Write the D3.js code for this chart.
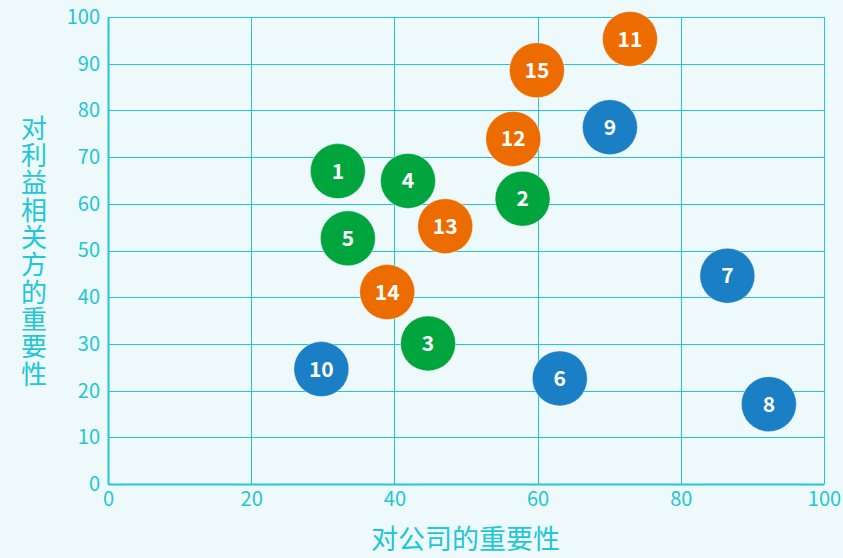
<!DOCTYPE html>
<html>
<head>
<meta charset="utf-8">
<script src="https://cdn.jsdelivr.net/npm/d3@7"></script>
<style>
  html, body { margin: 0; padding: 0; background: #eef9fb; }
  svg { display: block; font-family: "Noto Sans CJK SC", "Noto Sans", sans-serif; }
</style>
</head>
<body>
<svg id="chart" width="843" height="558"></svg>
<script>
// data
const ids = ["1","2","3","4","5","6","7","8","9","10","11","12","13","14","15"];
const companyImportance = [32.1, 57.9, 44.7, 41.9, 33.5, 63.1, 86.5, 92.3, 70.1, 29.8, 72.9, 56.6, 47.1, 39.0, 59.9];
const stakeholderImportance = [67.0, 61.1, 30.1, 64.9, 52.6, 22.6, 44.6, 17.1, 76.4, 24.6, 95.3, 73.9, 55.2, 41.1, 88.6];
const groups = ["g","g","g","g","g","b","b","b","b","b","o","o","o","o","o"];
const xTicks = [0, 20, 40, 60, 80, 100];
const yTicks = [0, 10, 20, 30, 40, 50, 60, 70, 80, 90, 100];
const xTitle = "对公司的重要性";
const yTitle = "对利益相关方的重要性";

const colors = { g: "#00a63d", b: "#1a7fc4", o: "#ec6c00" };
const cyan = "#22c6d5";

const svg = d3.select("#chart");
const margin = { top: 17, right: 19, bottom: 74, left: 108 };
const width = 843 - margin.left - margin.right;
const height = 558 - margin.top - margin.bottom;

const g = svg.append("g").attr("transform", `translate(${margin.left},${margin.top})`);

const x = d3.scaleLinear().domain([0, 100]).range([0, width]);
const y = d3.scaleLinear().domain([0, 100]).range([height, 0]);

// grid lines
g.append("g")
  .selectAll("line")
  .data(yTicks)
  .join("line")
  .attr("x1", 0).attr("x2", width)
  .attr("y1", d => Math.round(y(d)) + 0.5).attr("y2", d => Math.round(y(d)) + 0.5)
  .attr("stroke", cyan).attr("stroke-width", 1);

g.append("g")
  .selectAll("line")
  .data(xTicks)
  .join("line")
  .attr("x1", d => Math.round(x(d)) + 0.5).attr("x2", d => Math.round(x(d)) + 0.5)
  .attr("y1", 0).attr("y2", height)
  .attr("stroke", cyan).attr("stroke-width", 1);

// axes (thicker line at left and bottom)
const xAxis = g.append("g")
  .attr("transform", `translate(0,${height})`)
  .call(d3.axisBottom(x).tickValues(xTicks).tickSize(0).tickPadding(8));
const yAxis = g.append("g")
  .call(d3.axisLeft(y).tickValues(yTicks).tickSize(0).tickPadding(8));

[xAxis, yAxis].forEach(a => {
  a.select(".domain").attr("stroke", cyan).attr("stroke-width", 2);
  a.selectAll("text")
    .attr("fill", cyan)
    .style("font-size", "20px")
    .style("font-family", "'Noto Sans CJK SC', 'Noto Sans', sans-serif");
});

// bubbles
const pts = ids.map((id, i) => ({ id, cx: companyImportance[i], cy: stakeholderImportance[i], grp: groups[i] }));

const node = g.append("g")
  .selectAll("g")
  .data(pts)
  .join("g")
  .attr("transform", d => `translate(${x(d.cx)},${y(d.cy)})`);

node.append("circle")
  .attr("r", 27.5)
  .attr("fill", d => colors[d.grp])
  .attr("stroke", "#ffffff")
  .attr("stroke-opacity", 0.5)
  .attr("stroke-width", 0.8);

node.append("text")
  .text(d => d.id)
  .attr("text-anchor", "middle")
  .attr("dy", "0.36em")
  .attr("fill", "#ffffff")
  .style("font-size", "21px")
  .style("font-weight", "bold");

// axis titles
svg.append("text")
  .attr("x", margin.left + width / 2 - 0.5)
  .attr("y", 549)
  .attr("text-anchor", "middle")
  .attr("fill", cyan)
  .style("font-size", "27px")
  .text(xTitle);

// vertical title, stacked characters
svg.append("text")
  .attr("x", 34)
  .attr("y", 115)
  .attr("fill", cyan)
  .style("writing-mode", "vertical-rl")
  .style("text-orientation", "upright")
  .style("letter-spacing", "1.3px")
  .style("font-size", "26px")
  .text(yTitle);
</script>
</body>
</html>
